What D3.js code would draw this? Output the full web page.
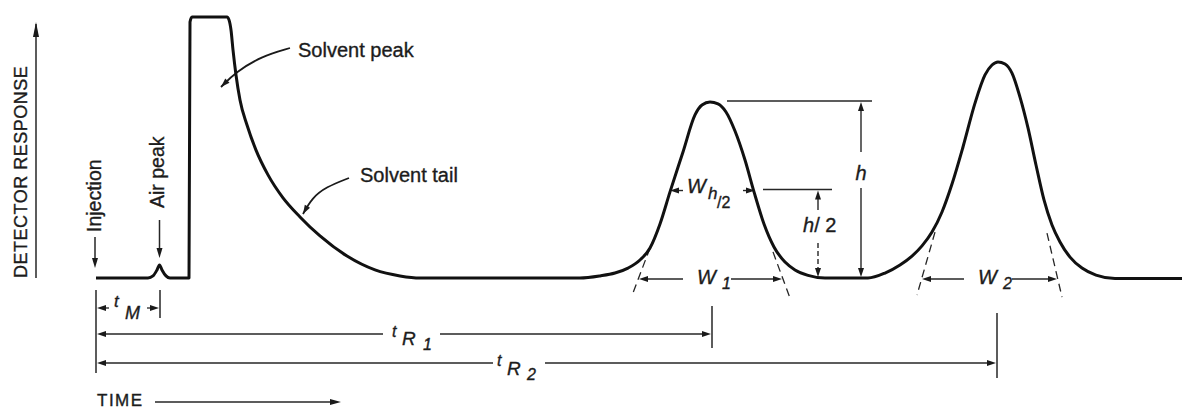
<!DOCTYPE html>
<html><head><meta charset="utf-8">
<script src="https://cdn.jsdelivr.net/npm/d3@7"></script>
<style>
html,body{margin:0;padding:0;background:#fff;}
svg{display:block;background:#fff;}
text{font-family:"Liberation Sans", Arial, Helvetica, sans-serif; fill:#1c1c1c; stroke:#1c1c1c; stroke-width:0.35px;}
</style></head><body>
<svg id="chart" width="1182" height="410"></svg>
<script>
// ---- chromatogram trace (time units, response units) ----
const traceTime = [0, 5.2, 5.7, 6.1, 6.35, 6.6, 7.0, 7.4, 9.3, 9.4, 9.6, 13.1, 13.3, 13.5, 13.7, 14.0, 14.4, 15.1, 16.0, 17.2, 18.7, 20.4, 22.4, 25.1, 27.9, 30.4, 32.4,
  48.4, 50.4, 51.9, 53.2, 54.4, 55.4, 56.4, 57.4, 58.7, 59.9, 60.6, 61.4, 62.2, 63.0, 63.9, 64.9, 65.8, 66.8, 67.8, 68.9, 69.9, 71.2, 72.9,
  77.2, 78.9, 80.4, 81.6, 82.6, 83.6, 84.6, 85.6, 86.7, 87.9, 88.9, 89.6, 90.2, 90.9, 91.6, 92.4, 93.2, 94.0, 94.8, 95.6, 96.4, 97.4, 98.6, 100.0, 101.9, 108.6];
const traceResponse = [0, 0, 0.8, 3.1, 5.0, 3.1, 0.8, 0, 0, 98.1, 100, 100, 98.9, 95.0, 87.4, 77.8, 68.2, 58.6, 49.0, 39.5, 30.7, 23.4, 16.1, 8.4, 3.1, 0.8, 0,
  0, 0.8, 1.9, 3.8, 6.9, 11.5, 20.7, 33.0, 48.3, 62.5, 66.3, 67.4, 66.7, 63.6, 56.3, 45.2, 33.0, 20.7, 11.9, 6.1, 3.1, 1.0, 0,
  0, 1.9, 5.0, 8.4, 12.3, 17.6, 25.3, 36.0, 50.2, 67.0, 77.8, 81.6, 82.8, 82.0, 78.5, 69.3, 57.5, 43.3, 29.9, 20.3, 13.8, 8.0, 3.8, 1.1, -0.2, -0.2];

// ---- retention markers ----
const markerNames = ["M", "R1", "R2"];
const markerTimes = [0, 6.4, 61.6, 90.1]; // injection, tM, tR1, tR2

// ---- peak 1 height markers ----
const peakHeight = [67.8];
const halfHeight = [33.9];
// width at half height (peak 1)
const halfWidthTimes = [57.4, 65.9];
// baseline widths from tangents
const w1Times = [54.3, 68.6];
const w2Times = [82.6, 96.1];
// tangent lines
const tangentStartT = [55.4, 67.7, 83.9, 95.1];
const tangentStartR = [11.5, 10.0, 17.6, 17.2];
const tangentEndT = [53.7, 69.4, 82.1, 96.6];
const tangentEndR = [-5.7, -7.7, -6.5, -7.3];

const svg = d3.select("#chart");
const x = d3.scaleLinear().domain([0, 108.6]).range([96, 1182]);
const y = d3.scaleLinear().domain([0, 100]).range([278, 17]);

const INK = "#1a1a1a", THIN = "#262626";

function arrowHead(g, tx, ty, ang, len = 10, hw = 3.2) {
  const bx = tx - Math.cos(ang) * len, by = ty - Math.sin(ang) * len;
  const px = -Math.sin(ang) * hw, py = Math.cos(ang) * hw;
  g.append("path").attr("d", `M${tx},${ty}L${bx + px},${by + py}L${bx - px},${by - py}Z`)
    .attr("fill", INK).attr("stroke", "none");
}
const R = 0, L = Math.PI, U = -Math.PI / 2, D = Math.PI / 2;
function seg(g, x1, y1, x2, y2, w = 1.5, dash = null) {
  const l = g.append("line").attr("x1", x1).attr("y1", y1).attr("x2", x2).attr("y2", y2)
    .attr("stroke", THIN).attr("stroke-width", w);
  if (dash) l.attr("stroke-dasharray", dash);
  return l;
}

const ann = svg.append("g");

// ---- y-axis arrow and label ----
seg(ann, 36, y(0), 36, 24, 1.5);
arrowHead(ann, 36, 22, U, 15, 3);
ann.append("text").attr("transform", `translate(27,${y(0)}) rotate(-90)`)
  .attr("font-size", 18).attr("letter-spacing", 0.5).text("DETECTOR RESPONSE");

// ---- TIME arrow ----
ann.append("text").attr("x", 97).attr("y", 405.5).attr("font-size", 17).attr("letter-spacing", 1.5).text("TIME");
seg(ann, 155, 402, 332, 402, 1.3);
arrowHead(ann, 341, 402, R, 11, 3);

// ---- trace ----
const pts = traceTime.map((t, i) => [t, traceResponse[i]]);
svg.append("path").datum(pts)
  .attr("d", d3.line().x(d => x(d[0])).y(d => y(d[1])).curve(d3.curveMonotoneX))
  .attr("fill", "none").attr("stroke", "#111").attr("stroke-width", 3).attr("stroke-linejoin", "round");

// ---- Injection / Air peak labels ----
const xi = x(markerTimes[0]) - 1, xa = x(markerTimes[1]) - 0.5;
ann.append("text").attr("transform", `translate(${xi + 6},232) rotate(-90)`).attr("font-size", 19.5).text("Injection");
seg(ann, xi, 237, xi, 259, 1.5); arrowHead(ann, xi, 268, D, 10, 3);
ann.append("text").attr("transform", `translate(${xa + 4},208) rotate(-90)`).attr("font-size", 19.5).text("Air peak");
seg(ann, xa, 220, xa, 249, 1.5); arrowHead(ann, xa, 258, D, 10, 3);

// ---- Solvent peak / tail leaders ----
const leader = d3.line().curve(d3.curveBasis);
function lead(p) {
  ann.append("path").attr("d", leader(p)).attr("fill", "none").attr("stroke", INK).attr("stroke-width", 1.8);
  const a = p[p.length - 1], b = p[p.length - 2];
  arrowHead(ann, a[0], a[1], Math.atan2(a[1] - b[1], a[0] - b[0]), 9, 3);
}
lead([[290, 48], [262, 56], [236, 72], [221, 87]]);
ann.append("text").attr("x", 298).attr("y", 57).attr("font-size", 20).text("Solvent peak");
lead([[349, 178], [326, 187], [312, 198], [303, 214]]);
ann.append("text").attr("x", 360).attr("y", 182).attr("font-size", 20).text("Solvent tail");

// ---- time rows ----
const x0 = x(markerTimes[0]);
seg(ann, x0, 290, x0, 373, 1.5);
// tM row
const xM = x(markerTimes[1]);
seg(ann, xM, 290, xM, 318, 1.5);
seg(ann, x0 + 8, 308, 109, 308, 1.3); arrowHead(ann, x0 + 1, 308, L, 9, 3);
seg(ann, 147, 308, xM - 8, 308, 1.3); arrowHead(ann, xM - 1, 308, R, 9, 3);
ann.append("text").attr("x", 114).attr("y", 307).attr("font-size", 17).attr("font-style", "italic").text("t");
ann.append("text").attr("x", 125).attr("y", 319).attr("font-size", 18).attr("font-style", "italic").text(markerNames[0]);
// tR1 row
const xR1 = x(markerTimes[2]);
seg(ann, xR1, 306, xR1, 348, 1.5);
seg(ann, x0 + 8, 334, 383, 334, 1.3); arrowHead(ann, x0 + 1, 334, L, 9, 3);
seg(ann, 440, 334, xR1 - 8, 334, 1.3); arrowHead(ann, xR1 - 1, 334, R, 9, 3);
ann.append("text").attr("x", 392).attr("y", 337).attr("font-size", 16).attr("font-style", "italic").text("t");
ann.append("text").attr("x", 402).attr("y", 345).attr("font-size", 19).attr("font-style", "italic").text("R");
ann.append("text").attr("x", 423).attr("y", 350).attr("font-size", 16).attr("font-style", "italic").text(markerNames[1].slice(1));
// tR2 row
const xR2 = x(markerTimes[3]);
seg(ann, xR2, 313, xR2, 378, 1.5);
seg(ann, x0 + 8, 363, 493, 363, 1.3); arrowHead(ann, x0 + 1, 363, L, 9, 3);
seg(ann, 545, 363, xR2 - 8, 363, 1.3); arrowHead(ann, xR2 - 1, 363, R, 9, 3);
ann.append("text").attr("x", 497).attr("y", 366).attr("font-size", 16).attr("font-style", "italic").text("t");
ann.append("text").attr("x", 507).attr("y", 375).attr("font-size", 19).attr("font-style", "italic").text("R");
ann.append("text").attr("x", 527).attr("y", 380).attr("font-size", 16).attr("font-style", "italic").text(markerNames[2].slice(1));

// ---- tangents ----
tangentStartT.forEach((t, i) => {
  seg(ann, x(t), y(tangentStartR[i]), x(tangentEndT[i]), y(tangentEndR[i]), 1.3, "8,5");
});

// ---- W1, W2 ----
const yW = y(0) + 1;
function wArrow(times, sub, textX) {
  const l = x(times[0]), r = x(times[1]);
  seg(ann, l + 8, yW, textX - 14, yW, 1.3); arrowHead(ann, l, yW, L, 9, 3);
  seg(ann, textX + 34, yW, r - 8, yW, 1.3); arrowHead(ann, r, yW, R, 9, 3);
  ann.append("text").attr("x", textX).attr("y", yW + 5).attr("font-size", 20).attr("font-style", "italic").text("W");
  ann.append("text").attr("x", textX + 25).attr("y", yW + 10).attr("font-size", 16).attr("font-style", "italic").text(sub);
}
wArrow(w1Times, "1", 697);
wArrow(w2Times, "2", 978);

// ---- h markers ----
const yTop = y(peakHeight[0]), yHalf = y(halfHeight[0]);
seg(ann, 727, yTop, 872, yTop, 1.4);
seg(ann, 763, yHalf, 832, yHalf, 1.4);
const xh = 861;
seg(ann, xh, yTop + 8, xh, 152, 1.4); arrowHead(ann, xh, yTop + 1, U, 9, 3);
seg(ann, xh, 188, xh, y(0) - 8, 1.4); arrowHead(ann, xh, y(0) - 1, D, 9, 3);
ann.append("text").attr("x", xh).attr("y", 180).attr("text-anchor", "middle").attr("font-size", 20).attr("font-style", "italic").text("h");
const xh2 = 818;
seg(ann, xh2, yHalf + 8, xh2, 210, 1.4); arrowHead(ann, xh2, yHalf + 1, U, 9, 3);
seg(ann, xh2, 243, xh2, y(0) - 8, 1.4, "5,3"); arrowHead(ann, xh2, y(0) - 1, D, 9, 3);
const th2 = ann.append("text").attr("x", 803).attr("y", 232).attr("font-size", 20);
th2.append("tspan").attr("font-style", "italic").text("h");
th2.append("tspan").text("/ 2");
// W h/2
const yw = yHalf + 1;
const wl = x(halfWidthTimes[0]), wr = x(halfWidthTimes[1]);
seg(ann, wl + 6, yw, 683, yw, 1.4); arrowHead(ann, wl, yw, L, 9, 3);
seg(ann, 743, yw, wr - 6, yw, 1.4); arrowHead(ann, wr, yw, R, 9, 3);
ann.append("text").attr("x", 687).attr("y", 193).attr("font-size", 20).attr("font-style", "italic").text("W");
ann.append("text").attr("x", 708).attr("y", 199).attr("font-size", 17).attr("font-style", "italic").text("h");
ann.append("text").attr("x", 717).attr("y", 208).attr("font-size", 16).text("/2");
</script>
</body></html>
